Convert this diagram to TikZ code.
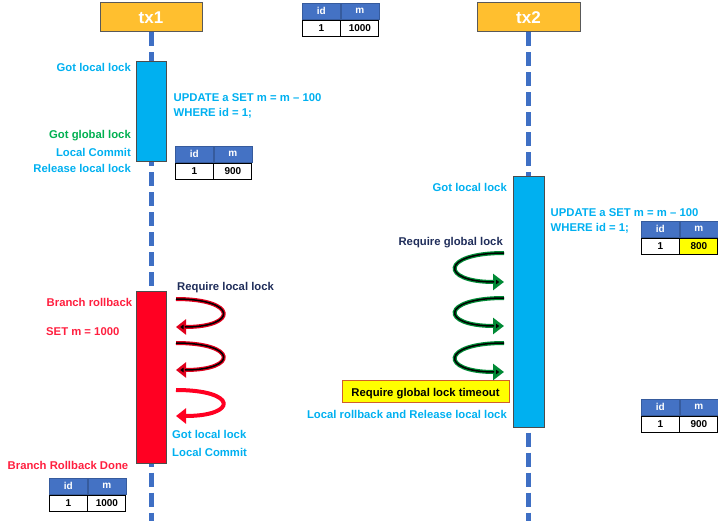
\documentclass[tikz,border=0pt]{standalone}
\usepackage{fontspec}
\setmainfont{Liberation Sans}
\usetikzlibrary{arrows.meta}
\definecolor{cyanT}{HTML}{00B0F0}
\definecolor{greenT}{HTML}{00B050}
\definecolor{redT}{HTML}{FF1F3F}
\definecolor{navyT}{HTML}{1F2D5A}
\definecolor{hdrBlue}{HTML}{4472C4}
\definecolor{lifeBlue}{HTML}{3E6FC4}
\definecolor{orangeBox}{HTML}{FFBF2F}
\definecolor{boxCyan}{HTML}{00B0F0}
\definecolor{boxRed}{HTML}{FF0022}
\definecolor{ylw}{HTML}{FFFF00}
\definecolor{ylwBorder}{HTML}{D0602A}
\definecolor{loopGreen}{HTML}{008A35}
\definecolor{loopRed}{HTML}{E0001C}
\newcommand\dbtab[5]{%
  \node[hdr, anchor=north west] (#1h1) at (#2,#3) {id};
  \node[hdr, anchor=north west] (#1h2) at (#1h1.north east) {m};
  \node[cell, anchor=north] (#1d1) at (#1h1.south) {1};
  \node[cell, anchor=north, #5] (#1d2) at (#1h2.south) {#4};
}
\begin{document}
\begin{tikzpicture}[x=1pt,y=-1pt,
  lbl/.style={font=\fontsize{11.3}{13}\selectfont\bfseries, inner sep=0pt, text height=8.2pt, text depth=0pt},
  hdr/.style={fill=hdrBlue, draw=hdrBlue!80!black, line width=0.6pt, text=white, minimum width=38pt, minimum height=16pt, inner sep=0pt, font=\fontsize{10}{12}\selectfont\bfseries},
  cell/.style={fill=white, draw=black, line width=0.9pt, text=black, minimum width=38pt, minimum height=16pt, inner sep=0pt, font=\fontsize{10}{12}\selectfont\bfseries},
  txbox/.style={fill=orangeBox, draw=black!65, line width=1pt, minimum height=29pt, text=white, font=\fontsize{17}{20}\selectfont\bfseries},
  lifeline/.style={draw=lifeBlue, line width=5pt, dash pattern=on 14pt off 6pt},
  actbox/.style={draw=black!70, line width=0.8pt, inner sep=0pt, minimum width=30pt},
  loopR/.style={draw=loopRed, line width=4pt, -{Triangle[length=10pt,width=15pt,fill=black]}},
  loopRcore/.style={draw=black, line width=1.5pt, shorten >=9pt},
  loopRR/.style={draw=boxRed, line width=4pt, -{Triangle[length=10pt,width=15pt]}},
  loopG/.style={draw=loopGreen, line width=4pt, -{Triangle[length=11pt,width=16pt,fill=black]}},
  loopGcore/.style={draw=black, line width=1.5pt, shorten >=10pt}
]
\useasboundingbox (0,0) rectangle (718,521);

% participants
\node[txbox, minimum width=102pt] (tx1) at (151,17.5) {tx1};
\node[txbox, minimum width=103pt] (tx2) at (528.5,17.5) {tx2};
\coordinate (l1end) at (151,521);
\coordinate (l2end) at (528.5,521);
\draw[lifeline] (tx1.south) -- (l1end);
\draw[lifeline] (tx2.south) -- (l2end);

% activation boxes
\node[actbox, fill=boxCyan, minimum height=100pt] (a1) at (151,111) {};
\node[actbox, fill=boxCyan, minimum width=31pt, minimum height=251pt] (a2) at (528.5,301.5) {};
\node[actbox, fill=boxRed, minimum height=172pt] (a3) at (151,377) {};

% tables
\dbtab{t0}{302}{3}{1000}{}
\dbtab{t1}{175}{146}{900}{}
\dbtab{t2}{641}{221}{800}{fill=ylw}
\dbtab{t3}{641}{399}{900}{}
\dbtab{t4}{49}{478}{1000}{}

% tx1 labels
\node[lbl, text=cyanT, anchor=east] (g1) at (131,67) {Got local lock};
\node[lbl, text=cyanT, anchor=west] (u1) at (173.5,97) {UPDATE a SET m = m – 100};
\node[lbl, text=cyanT, anchor=west] (w1) at (173.5,112) {WHERE id = 1;};
\node[lbl, text=greenT, anchor=east] (gg1) at (131,134) {Got global lock};
\node[lbl, text=cyanT, anchor=east] (lc1) at (131,152) {Local Commit};
\node[lbl, text=cyanT, anchor=east] (rl1) at (131,168) {Release local lock};

% tx2 labels
\node[lbl, text=cyanT, anchor=east] (g2) at (507,187) {Got local lock};
\node[lbl, text=cyanT, anchor=west] (u2) at (550.5,212) {UPDATE a SET m = m – 100};
\node[lbl, text=cyanT, anchor=west] (w2) at (550.5,227) {WHERE id = 1;};
\node[lbl, text=navyT, anchor=east] (rg) at (503,241) {Require global lock};
\node[lbl, text=black, fill=ylw, draw=ylwBorder, line width=1pt, minimum width=167pt, minimum height=22pt] (to) at (425.5,392) {Require global lock timeout};
\node[lbl, text=cyanT, anchor=east] (lr) at (507,414) {Local rollback and Release local lock};

% rollback labels
\node[lbl, text=redT, anchor=west] (br) at (46.5,302) {Branch rollback};
\node[lbl, text=redT, anchor=west] (sm) at (46,331) {SET m = 1000};
\node[lbl, text=navyT, anchor=west] (rl) at (177,286) {Require local lock};
\node[lbl, text=cyanT, anchor=west] (gl3) at (172,434) {Got local lock};
\node[lbl, text=cyanT, anchor=west] (lc3) at (172,452) {Local Commit};
\node[lbl, text=redT, anchor=west] (brd) at (7.5,465) {Branch Rollback Done};

% green waiting loops
\coordinate (g1s) at (504,253);  \coordinate (g1e) at (504,282);
\coordinate (g2s) at (504,298);  \coordinate (g2e) at (504,326);
\coordinate (g3s) at (504,343);  \coordinate (g3e) at (504,372);
\foreach \s/\e in {g1s/g1e, g2s/g2e, g3s/g3e}{
  \draw[loopG] (\s) .. controls +(-64,0) and +(-64,0) .. (\e);
  \draw[loopGcore] (\s) .. controls +(-64,0) and +(-64,0) .. (\e);
}

% red waiting loops
\coordinate (r1s) at (176,299);  \coordinate (r1e) at (176,327);
\coordinate (r2s) at (176,343);  \coordinate (r2e) at (176,370);
\coordinate (r3s) at (176,390);  \coordinate (r3e) at (176,416);
\foreach \s/\e in {r1s/r1e, r2s/r2e}{
  \draw[loopR] (\s) .. controls +(62,0) and +(62,0) .. (\e);
  \draw[loopRcore] (\s) .. controls +(62,0) and +(62,0) .. (\e);
}
\draw[loopRR] (r3s) .. controls +(62,0) and +(62,0) .. (r3e);
\end{tikzpicture}
\end{document}
